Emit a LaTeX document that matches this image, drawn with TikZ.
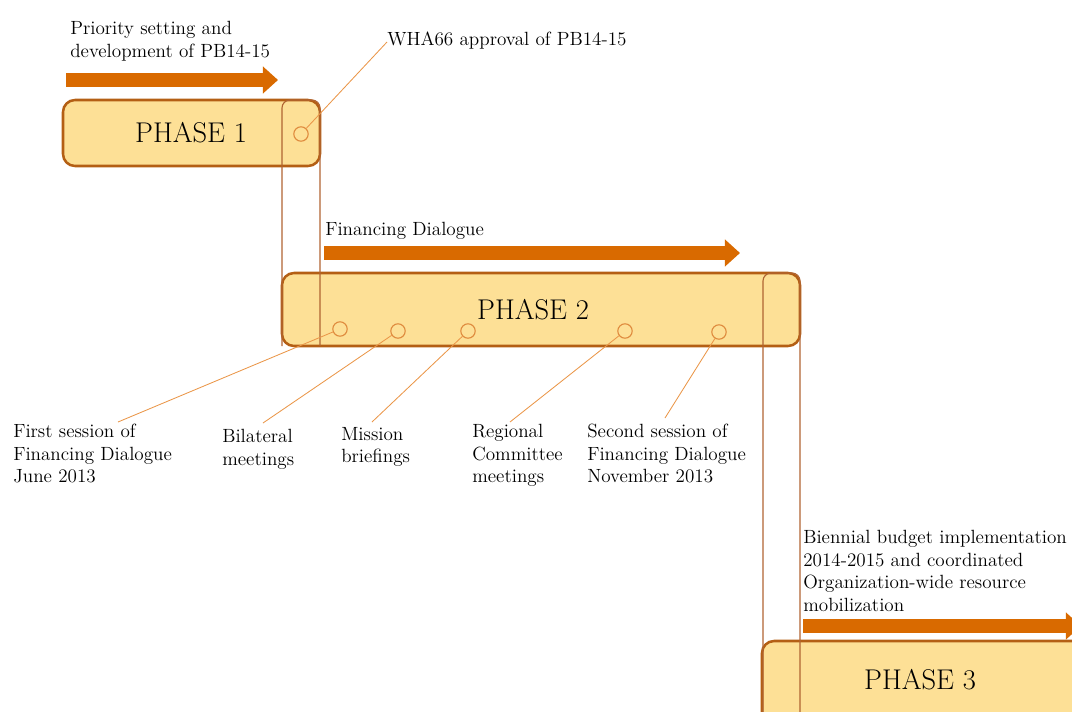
\documentclass[tikz,border=0pt]{standalone}
\usetikzlibrary{arrows.meta}
\definecolor{boxfill}{RGB}{253,224,150}
\definecolor{boxline}{RGB}{180,95,20}
\definecolor{arrowfill}{RGB}{217,106,0}
\definecolor{leadline}{RGB}{234,150,72}
\definecolor{railline}{RGB}{176,100,50}
\tikzset{
  phasebox/.style={draw=boxline, fill=boxfill, line width=1.8pt, rounded corners=0.3cm},
  rail/.style={draw=railline, line width=0.8pt, rounded corners=0.2cm},
  fatarrow/.style={draw=arrowfill, line width=0.35cm, -{Triangle[length=0.38cm,width=0.66cm]}},
  milestone/.style={circle, draw=leadline!80!boxline, fill=boxfill, line width=0.8pt, minimum size=0.36cm, inner sep=0pt},
  leader/.style={draw=leadline, line width=0.6pt},
  lbl/.style={anchor=north west, inner sep=0pt, align=left, font=\fontsize{13.6}{16}\selectfont},
  phase/.style={inner sep=0pt, font=\fontsize{20.3}{24}\selectfont}
}
\begin{document}
\begin{tikzpicture}[x=0.025cm, y=-0.025cm]
\useasboundingbox (0,0) rectangle (1072,711);
\clip (0,0) rectangle (1072,711);

\draw[fatarrow] (66,80) -- (278,80);
\draw[fatarrow] (324,253) -- (740,253);
\draw[fatarrow] (803,626) -- (1081,626);

\draw[phasebox] (63,100) rectangle (320,166);
\draw[phasebox] (282,273) rectangle (800,346);
\draw[phasebox] (762,641) rectangle (1110,770);
\draw[rail] (282,346) -- (282,100) -- (320,100) -- (320,346);
\draw[rail] (763,720) -- (763,273) -- (800,273) -- (800,720);

\node[phase] (ph1) at (191,133) {PHASE 1};
\node[phase] (ph2) at (533,310) {PHASE 2};
\node[phase] (ph3) at (920,680) {PHASE 3};

\node[lbl] (prio) at (70,21) {Priority setting and\\development of PB14-15};
\node[lbl] (wha) at (387,32) {WHA66 approval of PB14-15};
\node[lbl] (fd) at (325,222) {Financing Dialogue};
\node[lbl] (first) at (13,424) {First session of\\Financing Dialogue\\June 2013};
\node[lbl] (bilat) at (222,429) {Bilateral\\meetings};
\node[lbl] (mission) at (341,427) {Mission\\briefings};
\node[lbl] (regional) at (472,424) {Regional\\Committee\\meetings};
\node[lbl] (second) at (587,424) {Second session of\\Financing Dialogue\\November 2013};
\node[lbl] (biennial) at (803,530) {Biennial budget implementation\\2014-2015 and coordinated\\Organization-wide resource\\mobilization};

\coordinate (e0) at (387,42);
\coordinate (e1) at (118,422);
\coordinate (e2) at (263,423);
\coordinate (e3) at (372,422);
\coordinate (e4) at (510,422);
\coordinate (e5) at (665,418);

\node[milestone] (m0) at (301,134) {};
\node[milestone] (m1) at (340,329) {};
\node[milestone] (m2) at (398,331) {};
\node[milestone] (m3) at (468,331) {};
\node[milestone] (m4) at (625,331) {};
\node[milestone] (m5) at (719,332) {};

\draw[leader] (m0) -- (e0);
\draw[leader] (m1) -- (e1);
\draw[leader] (m2) -- (e2);
\draw[leader] (m3) -- (e3);
\draw[leader] (m4) -- (e4);
\draw[leader] (m5) -- (e5);
\end{tikzpicture}
\end{document}
